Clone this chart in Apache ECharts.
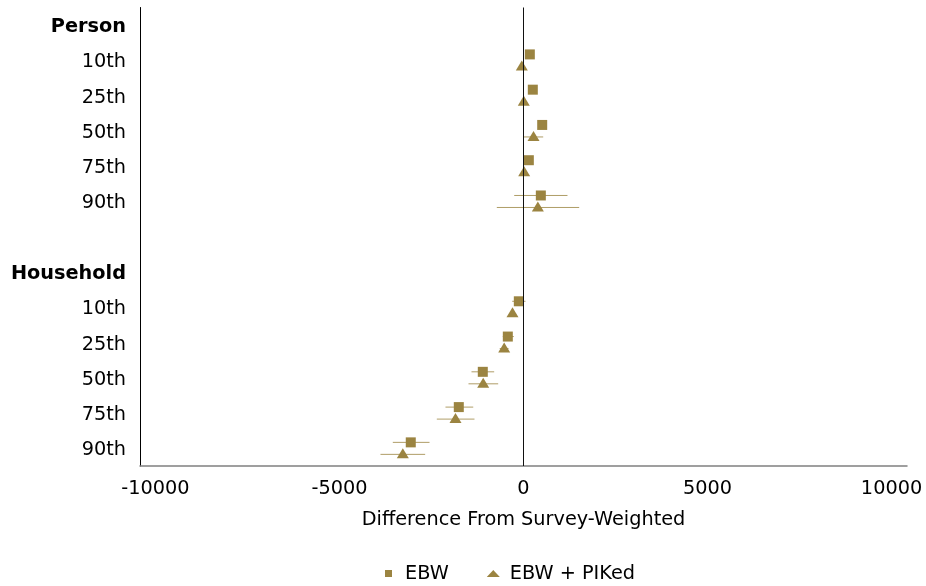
<!DOCTYPE html>
<html>
<head>
<meta charset="utf-8">
<script src="https://cdn.jsdelivr.net/npm/echarts@6/dist/echarts.min.js"></script>
<style>
  html, body { margin: 0; padding: 0; background: #fff; }
  #chart { width: 926px; height: 586px; }
</style>
</head>
<body>
<div id="chart"></div>
<script>
// Row labels, top to bottom (group headers are drawn in bold)
const rowLabels = ['Person', '10th', '25th', '50th', '75th', '90th', '',
                   'Household', '10th', '25th', '50th', '75th', '90th'];
const headerRows = ['Person', 'Household'];

// EBW estimates with interval bounds (difference from survey-weighted)
const ebw     = [null,  172,  253,  508,  145,  471, null, null, -127, -426, -1106, -1758, -3063];
const ebwLo   = [null,  130,  214,  448,  104, -253, null, null, -307, -563, -1413, -2120, -3551];
const ebwHi   = [null,  214,  292,  568,  188, 1195, null, null,   54, -264,  -797, -1366, -2554];

// EBW + PIKed estimates with interval bounds
const piked   = [null,  -46,    8,  272,   18,  390, null, null, -299, -525, -1095, -1848, -3279];
const pikedLo = [null,  -89,  -31,    8,  -21, -725, null, null, -365, -646, -1494, -2355, -3886];
const pikedHi = [null,    0,   47,  535,   57, 1513, null, null, -234, -406,  -688, -1332, -2672];

// Axis range is padded a little beyond the outer ticks
const xTicks = [-10000, -5000, 0, 5000, 10000];
const xMin = -10420;
const xMax = 10420;

const markColor = '#9b8441';
const fontFamily = "'DejaVu Sans', sans-serif";
const fontSize = 19.3;

function points(vals) {
  return vals.map((v, i) => (v === null ? null : [v, i])).filter(d => d);
}
function ranges(lo, hi) {
  return lo.map((v, i) => (v === null ? null : [v, hi[i], i])).filter(d => d);
}

function errorBar(dy) {
  return function (params, api) {
    const a = api.coord([api.value(0), api.value(2)]);
    const b = api.coord([api.value(1), api.value(2)]);
    return {
      type: 'line',
      shape: { x1: a[0], y1: a[1] + dy, x2: b[0], y2: b[1] + dy },
      style: { stroke: markColor, lineWidth: 1, opacity: 0.8 }
    };
  };
}

const chart = echarts.init(document.getElementById('chart'), null, { renderer: 'canvas' });

chart.setOption({
  animation: false,
  textStyle: { fontFamily: fontFamily },
  grid: { left: 140, right: 19, top: 7.5, bottom: 120, containLabel: false, outerBoundsMode: 'none' },
  legend: {
    top: 559,
    left: 380,
    itemGap: 38,
    itemWidth: 13,
    itemHeight: 7,
    symbolKeepAspect: true,
    textStyle: { fontSize: fontSize, color: '#000', fontFamily: fontFamily, padding: [0, 0, 0, 5] },
    data: [
      { name: 'EBW', icon: 'path://M0,0h7v7h-7z' },
      { name: 'EBW + PIKed', icon: 'triangle' }
    ]
  },
  xAxis: {
    type: 'value',
    min: xMin,
    max: xMax,
    name: 'Difference From Survey-Weighted',
    nameLocation: 'middle',
    nameGap: 44,
    nameTextStyle: { fontSize: fontSize, color: '#000', fontFamily: fontFamily },
    axisLine: { show: true, lineStyle: { color: '#808080', width: 1.5 } },
    axisTick: { show: false },
    splitLine: { show: false },
    axisLabel: {
      customValues: xTicks,
      fontSize: fontSize, color: '#000', margin: 13, fontFamily: fontFamily,
      formatter: function (v) { return String(v); }
    }
  },
  yAxis: {
    type: 'category',
    inverse: true,
    data: rowLabels,
    axisLine: { show: true, onZero: false, lineStyle: { color: '#000', width: 1 } },
    axisTick: { show: false },
    splitLine: { show: false },
    axisLabel: {
      fontSize: fontSize,
      color: '#000',
      margin: 14,
      padding: [4, 0, 0, 0],
      fontFamily: fontFamily,
      interval: 0,
      formatter: function (v) {
        return headerRows.indexOf(v) >= 0 ? '{b|' + v + '}' : v;
      },
      rich: { b: { fontWeight: 'bold', fontSize: fontSize, color: '#000', fontFamily: fontFamily } }
    }
  },
  series: [
    {
      name: 'EBW interval',
      type: 'custom',
      renderItem: errorBar(-6),
      data: ranges(ebwLo, ebwHi),
      encode: { x: [0, 1], y: 2 },
      silent: true,
      z: 2
    },
    {
      name: 'EBW + PIKed interval',
      type: 'custom',
      renderItem: errorBar(6),
      data: ranges(pikedLo, pikedHi),
      encode: { x: [0, 1], y: 2 },
      silent: true,
      z: 2
    },
    {
      name: 'EBW',
      type: 'scatter',
      symbol: 'rect',
      symbolSize: 10,
      symbolOffset: [0, -6],
      itemStyle: { color: markColor, opacity: 1 },
      data: points(ebw),
      z: 3,
      markLine: {
        silent: true,
        symbol: 'none',
        label: { show: false },
        lineStyle: { color: '#111', width: 1, type: 'solid' },
        data: [{ xAxis: 0 }],
        animation: false
      }
    },
    {
      name: 'EBW + PIKed',
      type: 'scatter',
      symbol: 'triangle',
      symbolSize: [12, 10],
      symbolOffset: [0, 5],
      itemStyle: { color: markColor, opacity: 1 },
      data: points(piked),
      z: 3
    }
  ]
});
</script>
</body>
</html>
